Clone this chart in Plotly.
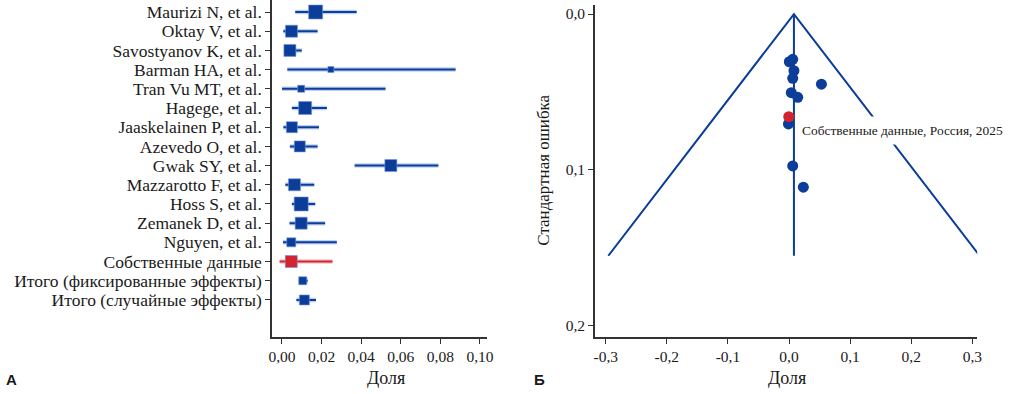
import plotly.graph_objects as go

# ---------------- data ----------------
studies = ["Maurizi N, et al.", "Oktay V, et al.", "Savostyanov K, et al.", "Barman HA, et al.",
           "Tran Vu MT, et al.", "Hagege, et al.", "Jaaskelainen P, et al.", "Azevedo O, et al.",
           "Gwak SY, et al.", "Mazzarotto F, et al.", "Hoss S, et al.", "Zemanek D, et al.",
           "Nguyen, et al.", "Собственные данные", "Итого (фиксированные эффекты)",
           "Итого (случайные эффекты)"]
est = [0.017, 0.0048, 0.004, 0.0247, 0.0097, 0.0117, 0.005, 0.009, 0.055, 0.0063,
       0.0097, 0.0097, 0.0047, 0.0047, 0.0105, 0.0113]
lo = [0.0067, 0.0007, 0.001, 0.0027, 0.0, 0.005, 0.0007, 0.004, 0.0367, 0.0017,
      0.005, 0.0038, 0.0005, -0.0012, 0.0085, 0.0073]
hi = [0.0377, 0.018, 0.010, 0.0877, 0.0523, 0.0227, 0.0187, 0.018, 0.079, 0.0163,
      0.0168, 0.0218, 0.0277, 0.0255, 0.013, 0.0172]
weights = [14, 12, 12, 6, 7, 13, 11, 11, 12, 12, 14, 12, 9, 12, 8, 10]
own_index = 13

forest_ticks = [0.0, 0.02, 0.04, 0.06, 0.08, 0.10]
forest_ticktext = ["0,00", "0,02", "0,04", "0,06", "0,08", "0,10"]

funnel_x = [0.0005, 0.006, 0.008, 0.006, 0.053, 0.0037, 0.0142, -0.001, 0.006, 0.0234]
funnel_se = [0.0306, 0.029, 0.0363, 0.0412, 0.045, 0.0504, 0.0534, 0.0705, 0.0974, 0.111]
own_x = [-0.0005]
own_se = [0.0658]
pooled = 0.008
se_max = 0.155

funnel_xticks = [-0.3, -0.2, -0.1, 0.0, 0.1, 0.2, 0.3]
funnel_xticktext = ["-0,3", "-0,2", "-0,1", "0,0", "0,1", "0,2", "0,3"]
funnel_yticks = [0.0, 0.1, 0.2]
funnel_yticktext = ["0,0", "0,1", "0,2"]

# ---------------- style ----------------
BLUE = "#0b3d99"
HALO = "rgba(110,150,225,0.45)"
RED = "#d2232e"
AX = "#333333"
TXT = "#1a1a1a"
SERIF = "Liberation Serif, Times New Roman, serif"

fig = go.Figure()

rows = list(range(len(studies)))
colors = [RED if i == own_index else BLUE for i in rows]

for i in rows:
    c = colors[i]
    halo = "rgba(240,130,140,0.45)" if i == own_index else HALO
    fig.add_trace(go.Scatter(x=[lo[i], hi[i]], y=[i, i], mode="lines",
                             line=dict(color=halo, width=4.5), hoverinfo="skip",
                             showlegend=False, xaxis="x", yaxis="y"))
    fig.add_trace(go.Scatter(x=[lo[i], hi[i]], y=[i, i], mode="lines",
                             line=dict(color=c, width=2), hoverinfo="skip",
                             showlegend=False, xaxis="x", yaxis="y"))

fig.add_trace(go.Scatter(x=est, y=rows, mode="markers",
                         marker=dict(symbol="square", size=weights, color=colors, opacity=1,
                                     line=dict(color="rgba(110,150,225,0.6)", width=1)),
                         showlegend=False, xaxis="x", yaxis="y"))

# Funnel
fig.add_trace(go.Scatter(x=[pooled - 1.96 * se_max, pooled, pooled + 1.96 * se_max],
                         y=[se_max, 0, se_max], mode="lines",
                         line=dict(color=BLUE, width=2), showlegend=False,
                         xaxis="x2", yaxis="y2"))
fig.add_trace(go.Scatter(x=[pooled, pooled], y=[0, se_max], mode="lines",
                         line=dict(color=BLUE, width=2), showlegend=False,
                         xaxis="x2", yaxis="y2"))
fig.add_trace(go.Scatter(x=funnel_x, y=funnel_se, mode="markers",
                         marker=dict(size=11, color=BLUE, opacity=1), showlegend=False,
                         xaxis="x2", yaxis="y2"))
fig.add_trace(go.Scatter(x=own_x, y=own_se, mode="markers",
                         marker=dict(size=11, color=RED, opacity=1), showlegend=False,
                         xaxis="x2", yaxis="y2"))

W, H = 1033, 394
axis_common = dict(showgrid=False, zeroline=False, showline=True, linecolor=AX, linewidth=1.5,
                   ticks="outside", ticklen=5, tickcolor=AX, tickwidth=1.3)
tf = dict(family=SERIF, size=15.5, color=TXT)

fig.update_layout(
    width=W, height=H, margin=dict(l=0, r=0, t=0, b=0),
    paper_bgcolor="white", plot_bgcolor="white", showlegend=False,
    xaxis=dict(domain=[270.7 / W, 488 / W], range=[-0.005, 0.1037], tickfont=tf,
               tickvals=forest_ticks, ticktext=forest_ticktext, anchor="y", **axis_common),
    yaxis=dict(domain=[(H - 337) / H, 1.0], range=[16.93, -0.625],
               tickfont=dict(family=SERIF, size=17.5, color=TXT),
               tickvals=rows, ticktext=studies, anchor="x", **axis_common),
    xaxis2=dict(domain=[596.7 / W, 982.7 / W], range=[-0.3177, 0.3079], tickfont=tf,
                tickvals=funnel_xticks, ticktext=funnel_xticktext, anchor="y2", **axis_common),
    yaxis2=dict(domain=[(H - 337) / H, (H - 5) / H], range=[0.2071, -0.0058], tickfont=tf,
                tickvals=funnel_yticks, ticktext=funnel_yticktext, anchor="x2", **axis_common),
)

ann_font = dict(family=SERIF, size=18, color=TXT)
fig.add_annotation(text="Доля", x=386 / W, y=(H - 378) / H, xref="paper", yref="paper",
                   showarrow=False, font=ann_font, xanchor="center", yanchor="middle")
fig.add_annotation(text="Доля", x=791 / W, y=(H - 378) / H, xref="paper", yref="paper",
                   showarrow=False, font=ann_font, xanchor="center", yanchor="middle")
fig.add_annotation(text="Стандартная ошибка", x=545 / W, y=(H - 170) / H, xref="paper",
                   yref="paper", showarrow=False, font=dict(family=SERIF, size=17, color=TXT),
                   textangle=-90, xanchor="center", yanchor="middle")
fig.add_annotation(text="<b>А</b>", x=8 / W, y=(H - 379) / H, xref="paper", yref="paper",
                   showarrow=False, font=dict(family="Liberation Sans, Arial", size=15, color=TXT),
                   xanchor="center", yanchor="middle")
fig.add_annotation(text="<b>Б</b>", x=541 / W, y=(H - 379) / H, xref="paper", yref="paper",
                   showarrow=False, font=dict(family="Liberation Sans, Arial", size=15, color=TXT),
                   xanchor="center", yanchor="middle")
fig.add_annotation(text="Собственные данные, Россия, 2025", x=799 / W, y=(H - 130) / H,
                   xref="paper", yref="paper", showarrow=False,
                   font=dict(family=SERIF, size=13.4, color=TXT), bgcolor="white",
                   xanchor="left", yanchor="middle", borderpad=6)

post = """
document.documentElement.style.margin='0';
document.documentElement.style.padding='0';
document.documentElement.style.overflow='hidden';
document.body.style.margin='0';
document.body.style.padding='0';
document.body.style.overflow='hidden';
document.querySelectorAll('.svg-container').forEach(function(e){e.style.display='block';});
document.querySelectorAll('.plotly-graph-div').forEach(function(e){e.style.overflow='hidden';});
"""
fig.write_html("out.html", config={"displayModeBar": False}, post_script=post)
